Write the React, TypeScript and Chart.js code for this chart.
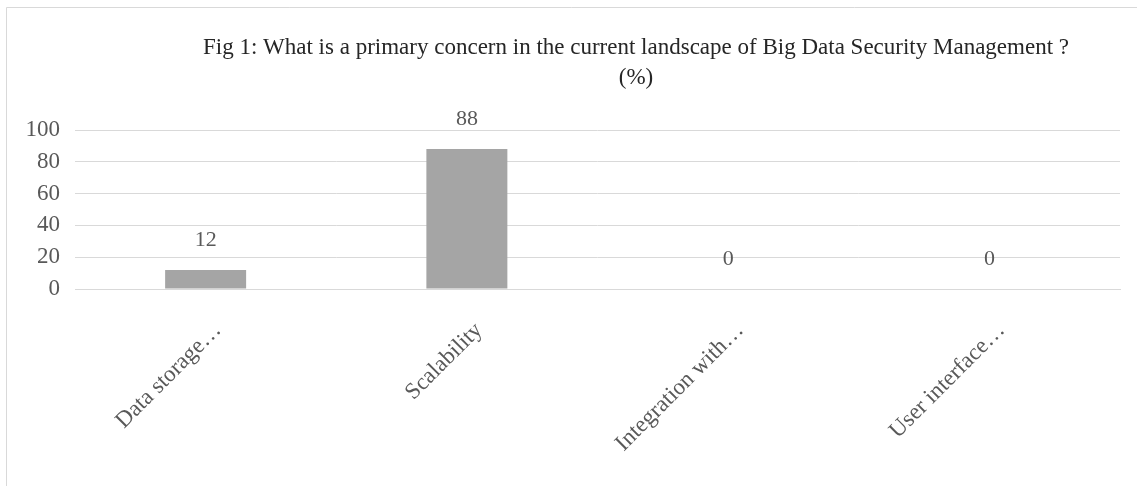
import React, { useEffect, useRef } from "react";
import { Chart, registerables } from "chart.js";

Chart.register(...registerables);

const titleLines = [
  "Fig 1: What is a primary concern in the current landscape of Big Data Security Management ?",
  "(%)",
];
const categories = ["Data storage…", "Scalability", "Integration with…", "User interface…"];
const values = [12, 88, 0, 0];
const yTicks = [0, 20, 40, 60, 80, 100];

const FONT = "'Liberation Serif', 'Times New Roman', serif";
const TEXT = "#595959";
const GRID = "#d9d9d9";
const BAR = "#a5a5a5";

const framePlugin = {
  id: "frame",
  beforeDraw(chart: any) {
    const { ctx, width, height } = chart;
    ctx.save();
    ctx.fillStyle = "#ffffff";
    ctx.fillRect(0, 0, width, height);
    ctx.strokeStyle = GRID;
    ctx.lineWidth = 1;
    ctx.beginPath();
    ctx.moveTo(6.5, height);
    ctx.lineTo(6.5, 7.5);
    ctx.lineTo(width, 7.5);
    ctx.stroke();
    ctx.restore();
  },
};

const titlePlugin = {
  id: "customTitle",
  afterDraw(chart: any) {
    const { ctx } = chart;
    ctx.save();
    ctx.fillStyle = "#262626";
    ctx.font = `23px ${FONT}`;
    ctx.textAlign = "center";
    ctx.textBaseline = "alphabetic";
    ctx.fillText(titleLines[0], 636, 54);
    ctx.fillText(titleLines[1], 636, 84);
    ctx.restore();
  },
};

const labelPlugin = {
  id: "valueLabels",
  afterDatasetsDraw(chart: any) {
    const { ctx } = chart;
    const meta = chart.getDatasetMeta(0);
    ctx.save();
    ctx.fillStyle = TEXT;
    ctx.font = `22px ${FONT}`;
    ctx.textAlign = "center";
    ctx.textBaseline = "middle";
    meta.data.forEach((bar: any, i: number) => {
      ctx.fillText(String(values[i]), bar.x, bar.y - 30);
    });
    ctx.restore();
  },
};

export default function App() {
  const ref = useRef<HTMLCanvasElement>(null);
  useEffect(() => {
    const chart = new Chart(ref.current as HTMLCanvasElement, {
      type: "bar",
      data: {
        labels: categories,
        datasets: [
          {
            data: values,
            backgroundColor: BAR,
            borderWidth: 0,
            barPercentage: 0.31,
            categoryPercentage: 1,
          },
        ],
      },
      options: {
        animation: false,
        responsive: true,
        maintainAspectRatio: false,
        layout: { padding: { top: 130, right: 17, left: 0, bottom: 0 } },
        plugins: {
          legend: { display: false },
          title: { display: false },
          tooltip: { enabled: false },
        },
        scales: {
          x: {
            grid: { display: false },
            border: { display: true, color: GRID },
            ticks: {
              color: TEXT,
              font: { family: FONT, size: 23 },
              maxRotation: 45,
              minRotation: 45,
              padding: 20,
              labelOffset: 12,
              autoSkip: false,
            },
            afterFit(scale: any) {
              scale.height = 197;
            },
          },
          y: {
            min: 0,
            max: 100,
            afterBuildTicks(scale: any) {
              scale.ticks = yTicks.map((v) => ({ value: v }));
            },
            grid: { color: GRID, drawTicks: false },
            border: { display: false },
            ticks: {
              color: TEXT,
              font: { family: FONT, size: 23 },
              padding: 15,
            },
            afterFit(scale: any) {
              scale.width = 75;
            },
          },
        },
      },
      plugins: [framePlugin, titlePlugin, labelPlugin],
    });
    return () => chart.destroy();
  }, []);
  return (
    <div style={{ position: "absolute", left: 0, top: 0, width: 1137, height: 486 }}>
      <canvas ref={ref} />
    </div>
  );
}
